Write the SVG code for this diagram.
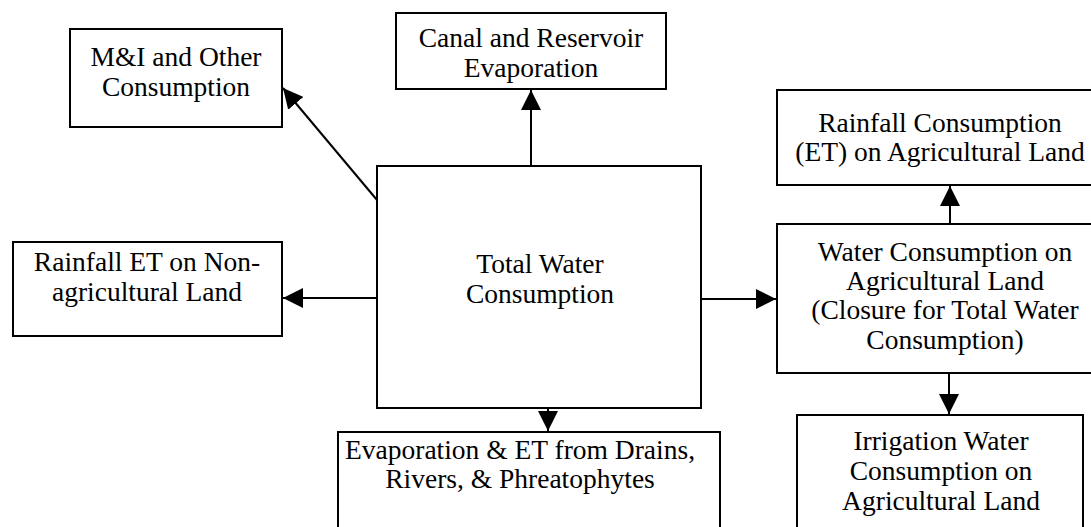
<svg xmlns="http://www.w3.org/2000/svg" width="1091" height="527" viewBox="0 0 1091 527">
  <style>
    .box { fill: #ffffff; stroke: #000000; stroke-width: 2; }
    .lbl { font-family: "Liberation Serif", "Times New Roman", serif; font-size: 27.5px; fill: #000000; text-anchor: middle; }
    .edge { stroke: #000000; stroke-width: 2; fill: none; marker-end: url(#arrow); }
  </style>
  <defs>
    <marker id="arrow" markerUnits="userSpaceOnUse" markerWidth="21" markerHeight="20" refX="20" refY="10" orient="auto">
      <path d="M0,0 L20,10 L0,20 Z" fill="#000000"/>
    </marker>
  </defs>
  <rect width="1091" height="527" fill="#ffffff"/>

  <g id="connectors">
    <line class="edge" x1="377" y1="200" x2="283" y2="88"/>
    <line class="edge" x1="531" y1="166" x2="531" y2="90"/>
    <line class="edge" x1="377" y1="298" x2="283" y2="298"/>
    <line class="edge" x1="701" y1="299" x2="776" y2="299"/>
    <line class="edge" x1="548" y1="408" x2="548" y2="431"/>
    <line class="edge" x1="950" y1="224" x2="950" y2="186"/>
    <line class="edge" x1="949" y1="373" x2="949" y2="414"/>
  </g>

  <g id="node-mi">
    <rect class="box" x="70" y="29" width="212" height="98"/>
    <text class="lbl" x="176" y="66">M&amp;I and Other</text>
    <text class="lbl" x="176" y="96">Consumption</text>
  </g>

  <g id="node-canal">
    <rect class="box" x="396" y="13" width="270" height="76"/>
    <text class="lbl" x="531" y="47">Canal and Reservoir</text>
    <text class="lbl" x="531" y="77">Evaporation</text>
  </g>

  <g id="node-total">
    <rect class="box" x="377" y="166" width="324" height="242"/>
    <text class="lbl" x="540" y="273">Total Water</text>
    <text class="lbl" x="540" y="303">Consumption</text>
  </g>

  <g id="node-nonag">
    <rect class="box" x="13" y="242" width="269" height="94"/>
    <text class="lbl" x="147" y="271">Rainfall ET on Non-</text>
    <text class="lbl" x="147" y="301">agricultural Land</text>
  </g>

  <g id="node-drains">
    <rect class="box" x="338" y="432" width="382" height="110"/>
    <text class="lbl" x="520" y="459">Evaporation &amp; ET from Drains,</text>
    <text class="lbl" x="520" y="488">Rivers, &amp; Phreatophytes</text>
  </g>

  <g id="node-rain-ag">
    <rect class="box" x="777" y="90" width="320" height="95"/>
    <text class="lbl" x="940" y="132">Rainfall Consumption</text>
    <text class="lbl" x="940" y="161">(ET) on Agricultural Land</text>
  </g>

  <g id="node-water-ag">
    <rect class="box" x="777" y="224" width="320" height="149"/>
    <text class="lbl" x="945" y="261">Water Consumption on</text>
    <text class="lbl" x="945" y="290">Agricultural Land</text>
    <text class="lbl" x="945" y="319">(Closure for Total Water</text>
    <text class="lbl" x="945" y="349">Consumption)</text>
  </g>

  <g id="node-irrigation">
    <rect class="box" x="797" y="415" width="286" height="130"/>
    <text class="lbl" x="941" y="450">Irrigation Water</text>
    <text class="lbl" x="941" y="480">Consumption on</text>
    <text class="lbl" x="941" y="510">Agricultural Land</text>
  </g>
</svg>
